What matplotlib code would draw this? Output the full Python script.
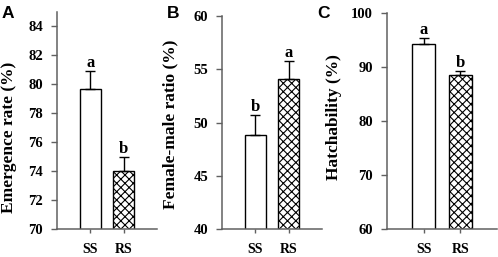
import matplotlib
matplotlib.use('Agg')
import matplotlib.pyplot as plt

plt.rcParams['font.family'] = 'Liberation Serif'
plt.rcParams['font.weight'] = 'bold'
plt.rcParams['hatch.linewidth'] = 0.8

# Data
groups = ['SS', 'RS']
emergence = [79.65, 74.0]
emergence_err = [1.25, 0.95]
sex_ratio = [48.8, 54.1]
sex_ratio_err = [1.9, 1.7]
hatch = [94.2, 88.5]
hatch_err = [1.1, 0.7]

panels = [
    dict(vals=emergence, errs=emergence_err, letters=['a', 'b'], ylim=(70, 85),
         ticks=[70, 72, 74, 76, 78, 80, 82, 84], label='Emergence rate (%)',
         pos=[57 / 498, 28 / 257, 100 / 498, 217 / 257], lab=(-0.40, 0.42),
         tag='A', tagx=2 / 498),
    dict(vals=sex_ratio, errs=sex_ratio_err, letters=['b', 'a'], ylim=(40, 60),
         ticks=[40, 45, 50, 55, 60], label='Female-male ratio (%)',
         pos=[222 / 498, 28 / 257, 100 / 498, 213 / 257], lab=(-0.44, 0.49),
         tag='B', tagx=167 / 498),
    dict(vals=hatch, errs=hatch_err, letters=['a', 'b'], ylim=(60, 100),
         ticks=[60, 70, 80, 90, 100], label='Hatchability (%)',
         pos=[387 / 498, 28 / 257, 110 / 498, 216 / 257], lab=(-0.41, 0.52),
         tag='C', tagx=317 / 498),
]

fig = plt.figure(figsize=(4.98, 2.57), dpi=100)
spine_col = '#606060'

for p in panels:
    ax = fig.add_axes(p['pos'])
    x = [0, 1]
    ax.bar(x, p['vals'], width=0.64, color='white', edgecolor='black',
           linewidth=1.0, hatch=[None, 'xxxx'], zorder=2)
    ax.errorbar(x, p['vals'], yerr=[[0, 0], p['errs']], fmt='none',
                ecolor='black', elinewidth=1.0, capsize=3.5, capthick=1.0,
                zorder=3)
    for xi, v, e, t in zip(x, p['vals'], p['errs'], p['letters']):
        ax.annotate(t, (xi, v + e), xytext=(0, 3), textcoords='offset points',
                    ha='center', va='baseline', fontsize=12, fontweight='bold')
    ax.set_xlim(-1, 2)
    ax.set_ylim(*p['ylim'])
    ax.set_yticks(p['ticks'])
    ax.set_xticks(x)
    ax.set_xticklabels(groups, fontsize=10, fontweight='bold')
    ax.tick_params(axis='y', direction='out', length=4, width=1, color=spine_col,
                   labelsize=10.5, pad=6)
    ax.tick_params(axis='x', direction='out', length=3, width=1, color=spine_col,
                   pad=7)
    for s in ['top', 'right']:
        ax.spines[s].set_visible(False)
    for s in ['left', 'bottom']:
        ax.spines[s].set_color(spine_col)
        ax.spines[s].set_linewidth(1.1)
    ax.set_ylabel(p['label'], fontsize=12.5, fontweight='bold')
    ax.yaxis.set_label_coords(*p['lab'])
    fig.text(p['tagx'], 1 - 18 / 257, p['tag'], family='Liberation Sans',
             fontweight='bold', fontsize=12.5, va='baseline', ha='left')

fig.savefig('out.png', dpi=100)
